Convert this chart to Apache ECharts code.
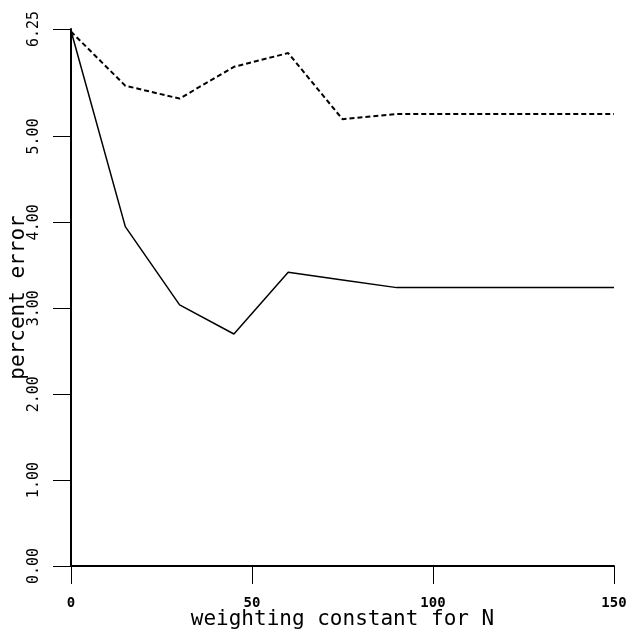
<!DOCTYPE html>
<html>
<head>
<meta charset="utf-8">
<script src="https://cdn.jsdelivr.net/npm/echarts@6/dist/echarts.min.js"></script>
<style>
html,body{margin:0;padding:0;background:#fff;}
#chart{width:635px;height:641px;}
</style>
</head>
<body>
<div id="chart"></div>
<script>
// Data
var xValues = [0, 15, 30, 45, 60, 75, 90, 105, 120, 135, 150];
var solidValues = [6.23, 3.95, 3.04, 2.70, 3.42, 3.33, 3.24, 3.24, 3.24, 3.24, 3.24];
var dashedValues = [6.22, 5.59, 5.44, 5.81, 5.97, 5.20, 5.26, 5.26, 5.26, 5.26, 5.26];
var yTickValues = [0, 1, 2, 3, 4, 5, 6.25];
var xTickValues = [0, 50, 100, 150];
var xTitle = 'weighting constant for N';
var yTitle = 'percent error';

function pairs(xs, ys) {
  return xs.map(function (x, i) { return [x, ys[i]]; });
}

var FONT = '"DejaVu Sans Mono", "Liberation Mono", monospace';

var chart = echarts.init(document.getElementById('chart'), null, {renderer: 'canvas'});
chart.setOption({
  backgroundColor: '#ffffff',
  animation: false,
  grid: {left: 71, right: 21, top: 29, bottom: 75, containLabel: false, outerBoundsMode: 'none'},
  xAxis: {
    type: 'value',
    min: 0, max: 150, interval: 50,
    name: xTitle,
    nameLocation: 'middle',
    nameGap: 43,
    nameMoveOverlap: false,
    nameTextStyle: {fontFamily: FONT, fontSize: 21, color: '#000'},
    axisLine: {show: true, onZero: false, lineStyle: {color: '#000', width: 2}},
    axisTick: {show: true, inside: false, length: 18, lineStyle: {color: '#000', width: 1}, customValues: xTickValues},
    axisLabel: {show: true, margin: 30, fontFamily: FONT, fontSize: 14, fontWeight: 'bold', color: '#000', customValues: xTickValues},
    splitLine: {show: false}
  },
  yAxis: {
    type: 'value',
    min: 0, max: 6.25,
    name: yTitle,
    nameLocation: 'middle',
    nameGap: 42,
    nameMoveOverlap: false,
    nameTextStyle: {fontFamily: FONT, fontSize: 21, color: '#000'},
    axisLine: {show: true, onZero: false, lineStyle: {color: '#000', width: 2}},
    axisTick: {show: true, inside: false, length: 18, lineStyle: {color: '#000', width: 1}, customValues: yTickValues},
    axisLabel: {
      show: true, rotate: 90, margin: 29,
      align: 'center', verticalAlign: 'bottom',
      fontFamily: FONT, fontSize: 15, color: '#000',
      customValues: yTickValues,
      formatter: function (v) { return Number(v).toFixed(2); }
    },
    splitLine: {show: false}
  },
  series: [
    {
      type: 'line',
      data: pairs(xValues, solidValues),
      showSymbol: false,
      symbol: 'none',
      lineStyle: {color: '#000', width: 1.5, type: 'solid'}
    },
    {
      type: 'line',
      data: pairs(xValues, dashedValues),
      showSymbol: false,
      symbol: 'none',
      lineStyle: {color: '#000', width: 2, type: [5, 3]}
    }
  ]
});
</script>
</body>
</html>
